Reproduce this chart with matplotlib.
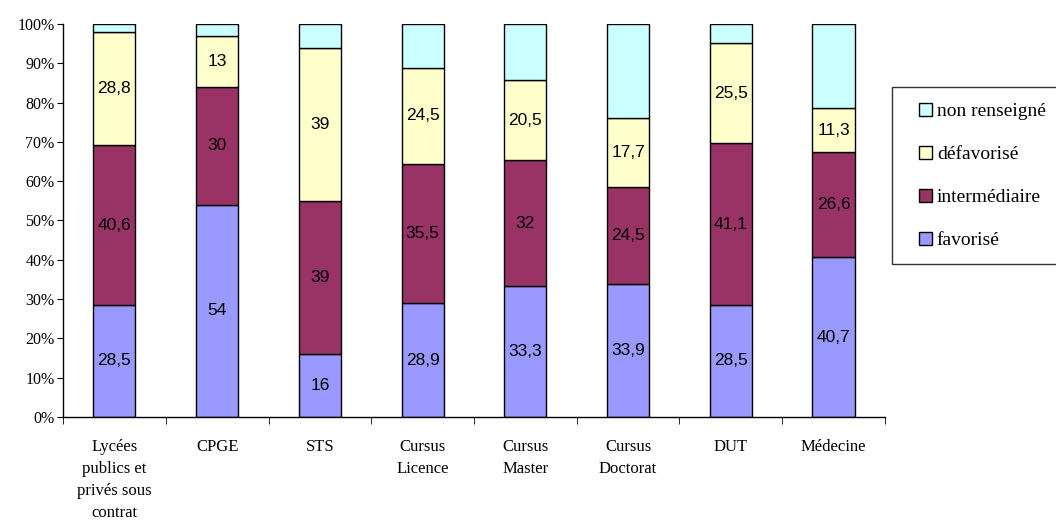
import matplotlib
matplotlib.use("Agg")
import matplotlib.pyplot as plt
import numpy as np
from matplotlib.patches import Patch, Rectangle
from matplotlib.legend_handler import HandlerPatch

categories = ["Lycées\npublics et\nprivés sous\ncontrat", "CPGE", "STS", "Cursus\nLicence",
              "Cursus\nMaster", "Cursus\nDoctorat", "DUT", "Médecine"]
favorise = [28.5, 54, 16, 28.9, 33.3, 33.9, 28.5, 40.7]
intermediaire = [40.6, 30, 39, 35.5, 32, 24.5, 41.1, 26.6]
defavorise = [28.8, 13, 39, 24.5, 20.5, 17.7, 25.5, 11.3]
non_renseigne = [2.1, 3.0, 6.0, 11.1, 14.2, 23.9, 4.9, 21.4]

series = [
    ("favorisé", favorise, "#9999FF", True),
    ("intermédiaire", intermediaire, "#993366", True),
    ("défavorisé", defavorise, "#FFFFCC", True),
    ("non renseigné", non_renseigne, "#CCFFFF", False),
]

serif = "Liberation Serif"
sans = "Liberation Sans"

fig = plt.figure(figsize=(10.56, 5.21), dpi=100)
ax = fig.add_axes([0.0597, 0.1996, 0.7783, 0.7544])

x = np.arange(len(categories))
bottom = np.zeros(len(categories))
for name, vals, color, labelled in series:
    vals = np.array(vals, dtype=float)
    ax.bar(x, vals, 0.41, bottom=bottom, color=color, edgecolor="black", linewidth=1, label=name)
    if labelled:
        for xi, b, v in zip(x, bottom, vals):
            ax.text(xi, b + v / 2, f"{v:g}".replace(".", ","), ha="center", va="center",
                    fontsize=12.5, family=sans, color="black")
    bottom += vals

ax.set_xlim(-0.5, len(categories) - 0.5)
ax.set_ylim(0, 100)
ax.set_yticks(np.arange(0, 101, 10))
ax.set_yticklabels([f"{t}%" for t in range(0, 101, 10)], family=serif, fontsize=11.5)
ax.set_xticks(x)
ax.set_xticklabels(categories, family=serif, fontsize=12, linespacing=1.5, va="top")
ax.tick_params(axis="x", length=0, pad=16)
ax.set_xticks(np.arange(-0.5, len(categories)), minor=True)
ax.tick_params(axis="x", which="minor", length=5, direction="out")
ax.tick_params(axis="y", length=4, direction="out", pad=2)
for side in ("top", "right"):
    ax.spines[side].set_visible(False)
for side in ("left", "bottom"):
    ax.spines[side].set_linewidth(1)


def square_patch(legend, orig_handle, xdescent, ydescent, width, height, fontsize):
    # small square pushed to the right end of the handle area
    s = 0.67 * fontsize
    return Rectangle((width - s - xdescent, -ydescent + (height - s) / 2), s, s)


handles = [Patch(facecolor=c, edgecolor="black", linewidth=1, label=n) for n, _, c, _ in series[::-1]]
leg = fig.legend(handles=handles, loc="upper left", bbox_to_anchor=(892 / 1056, 1 - 87 / 521),
                 prop={"family": serif, "size": 14}, frameon=True, fancybox=False,
                 edgecolor="black", handlelength=1.26, handleheight=0.7, handletextpad=0.25,
                 labelspacing=1.3, borderpad=0.8, borderaxespad=0,
                 handler_map={Patch: HandlerPatch(patch_func=square_patch)})
leg.get_frame().set_linewidth(1)

fig.savefig("out.png", dpi=100)
